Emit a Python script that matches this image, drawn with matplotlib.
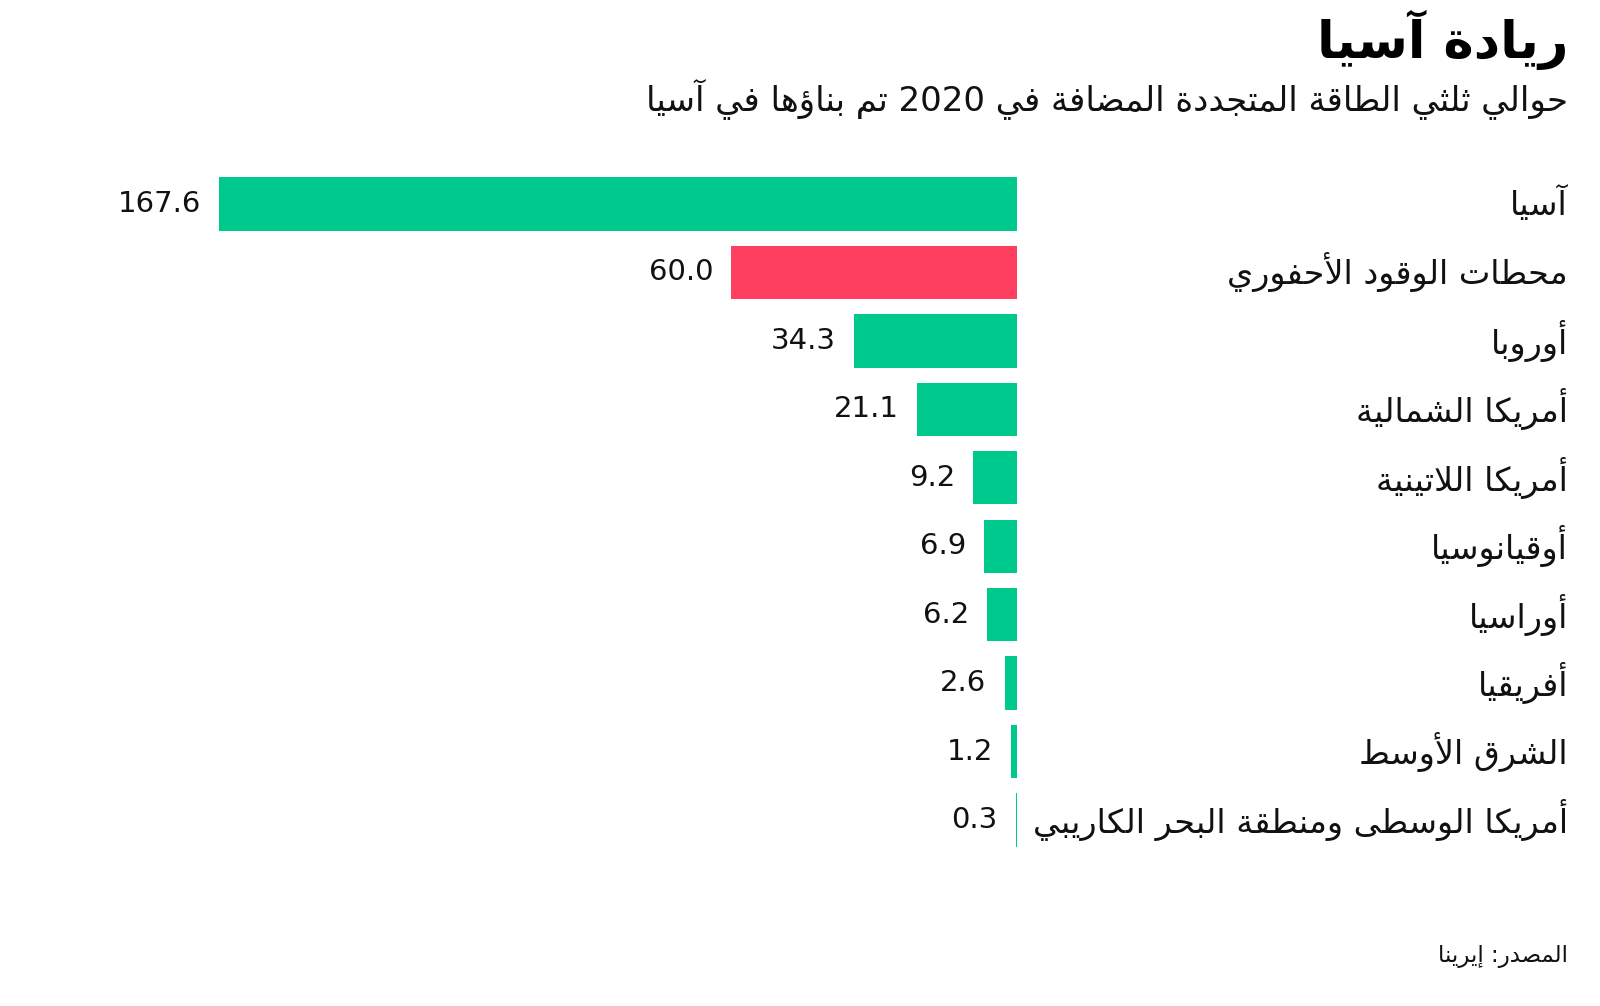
import re
import numpy as np
import matplotlib
matplotlib.use("Agg")
from matplotlib import pyplot as plt

# dados do gráfico
titulo = "ريادة آسيا"
subtitulo = "حوالي ثلثي الطاقة المتجددة المضافة في 2020 تم بناؤها في آسيا"
fonte = "المصدر: إيرينا"
regioes = ["آسيا", "محطات الوقود الأحفوري", "أوروبا", "أمريكا الشمالية",
           "أمريكا اللاتينية", "أوقيانوسيا", "أوراسيا", "أفريقيا",
           "الشرق الأوسط", "أمريكا الوسطى ومنطقة البحر الكاريبي"]
valores = [167.6, 60.0, 34.3, 21.1, 9.2, 6.9, 6.2, 2.6, 1.2, 0.3]
verde = "#00C98D"
vermelho = "#FF3F5F"
cores = [verde, vermelho] + [verde] * 8

# matplotlib nao faz shaping do arabe -> formas de apresentacao na mao
_tab = [('آ', 0xFE81, 0), ('أ', 0xFE83, 0), ('ؤ', 0xFE85, 0), ('إ', 0xFE87, 0),
        ('ئ', 0xFE89, 1), ('ا', 0xFE8D, 0), ('ب', 0xFE8F, 1), ('ة', 0xFE93, 0),
        ('ت', 0xFE95, 1), ('ث', 0xFE99, 1), ('ج', 0xFE9D, 1), ('ح', 0xFEA1, 1),
        ('خ', 0xFEA5, 1), ('د', 0xFEA9, 0), ('ذ', 0xFEAB, 0), ('ر', 0xFEAD, 0),
        ('ز', 0xFEAF, 0), ('س', 0xFEB1, 1), ('ش', 0xFEB5, 1), ('ص', 0xFEB9, 1),
        ('ض', 0xFEBD, 1), ('ط', 0xFEC1, 1), ('ظ', 0xFEC5, 1), ('ع', 0xFEC9, 1),
        ('غ', 0xFECD, 1), ('ف', 0xFED1, 1), ('ق', 0xFED5, 1), ('ك', 0xFED9, 1),
        ('ل', 0xFEDD, 1), ('م', 0xFEE1, 1), ('ن', 0xFEE5, 1), ('ه', 0xFEE9, 1),
        ('و', 0xFEED, 0), ('ى', 0xFEEF, 0), ('ي', 0xFEF1, 1)]
FORMAS = {c: (cod, d) for c, cod, d in _tab}
LAM_ALEF = {'آ': 0xFEF5, 'أ': 0xFEF7, 'إ': 0xFEF9, 'ا': 0xFEFB}


def arabe(txt):
    toks = []
    i = 0
    while i < len(txt):
        c = txt[i]
        if c == 'ل' and i + 1 < len(txt) and txt[i + 1] in LAM_ALEF:
            toks.append(('LA', txt[i + 1]))
            i += 2
        else:
            toks.append(c)
            i += 1

    def dual(t):
        return isinstance(t, str) and t in FORMAS and FORMAS[t][1] == 1

    def letra(t):
        return isinstance(t, tuple) or t in FORMAS

    out = []
    for k, t in enumerate(toks):
        ant = toks[k - 1] if k > 0 else None
        prox = toks[k + 1] if k + 1 < len(toks) else None
        junta_ant = ant is not None and dual(ant)
        if isinstance(t, tuple):
            out.append(chr(LAM_ALEF[t[1]] + (1 if junta_ant else 0)))
            continue
        if t not in FORMAS:
            out.append(t)
            continue
        cod, d = FORMAS[t]
        junta_prox = d == 1 and prox is not None and letra(prox)
        if junta_ant and junta_prox:
            cod += 3
        elif junta_ant:
            cod += 1
        elif junta_prox:
            cod += 2
        out.append(chr(cod))
    s = "".join(out[::-1])
    # numeros continuam da esquerda pra direita
    return re.sub(r'[0-9]+', lambda m: m.group(0)[::-1], s)


plt.rcParams['font.family'] = ['DejaVu Sans']

fig = plt.figure(figsize=(16, 10.06), dpi=100)
ax = fig.add_axes([219 / 1600, 0.1509, (1017 - 219) / 1600, 0.8312 - 0.1509])

y = np.arange(len(valores))
ax.barh(y, valores, height=0.78, color=cores)
ax.set_xlim(valores[0], 0)
ax.set_ylim(len(valores) - 0.5, -0.5)
ax.axis("off")

for yi, v in zip(y, valores):
    ax.annotate(f"{v:.1f}", xy=(v, yi), xytext=(-13, 0), textcoords="offset points",
                ha="right", va="center", fontsize=21, color="#111111",
                annotation_clip=False)

# rotulos das regioes (alinhados a direita, em coordenadas da figura)
for yi, nome in zip(y, regioes):
    yfig = ax.transData.transform((0, yi))[1] / fig.bbox.height
    fig.text(1568 / 1600, yfig, arabe(nome), ha="right", va="center",
             fontsize=24, color="#111111")

fig.text(1568 / 1600, 1 - 40 / 1006, arabe(titulo), ha="right", va="center",
         fontsize=37, fontweight="bold", color="black")
fig.text(1568 / 1600, 1 - 99 / 1006, arabe(subtitulo), ha="right", va="center",
         fontsize=24.5, color="#111111")
fig.text(1568 / 1600, 1 - 956 / 1006, arabe(fonte), ha="right", va="center",
         fontsize=16.5, color="#111111")

fig.savefig("out.png", dpi=100, facecolor="white")
